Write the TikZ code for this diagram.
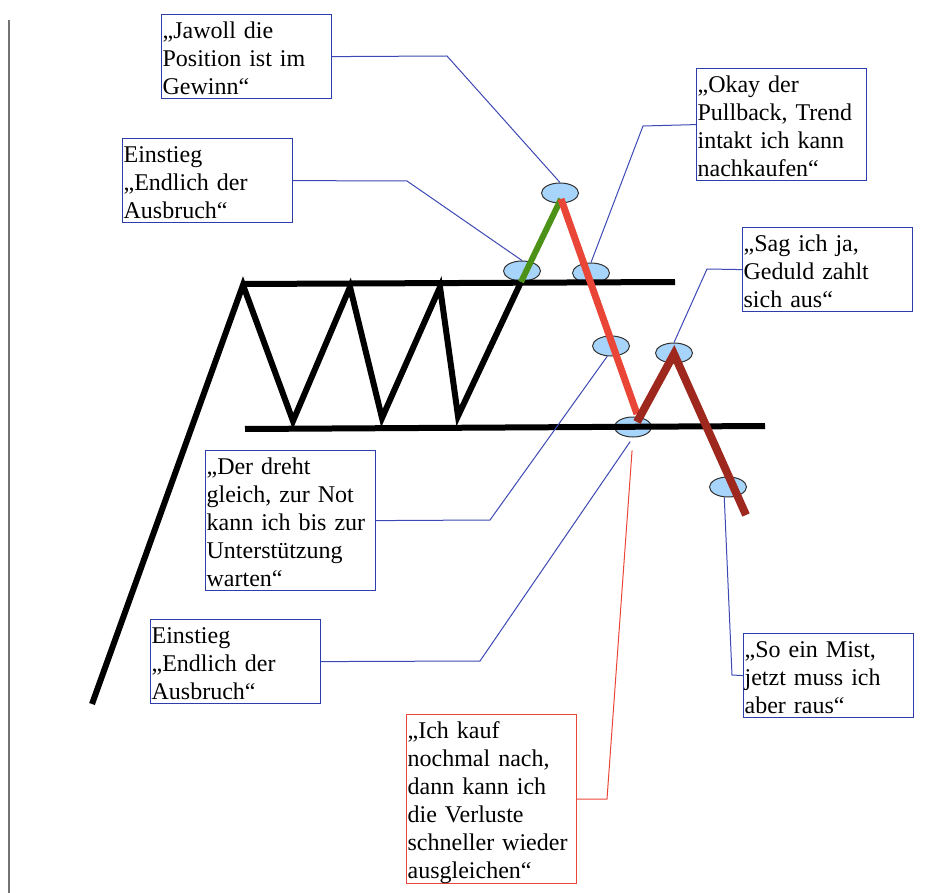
\documentclass[tikz,border=0pt]{standalone}
\usepackage{fontspec}
\setmainfont{Liberation Serif}
\usepackage{xcolor}
\usepackage{tikz}
\usetikzlibrary{shapes.geometric}
\usetikzlibrary{calc}

\definecolor{rahmenblau}{RGB}{45,62,172}
\definecolor{linienblau}{RGB}{60,72,180}
\definecolor{hellblau}{RGB}{166,212,250}
\definecolor{kursrot}{RGB}{234,70,56}
\definecolor{dunkelrot}{RGB}{158,40,30}
\definecolor{kursgruen}{RGB}{76,146,22}

\tikzset{
  spruch/.style={draw=rahmenblau, line width=1.2pt, rectangle, anchor=north west,
    inner xsep=1pt, inner ysep=0pt, text width=168pt, align=left,
    font=\fontsize{24}{28}\selectfont,
    execute at begin node=\rule{0pt}{24pt},
    execute at end node=\rule[-4pt]{0pt}{4pt}},
  punkt/.style={ellipse, draw=black!80, line width=1pt, fill=hellblau,
    minimum width=37pt, minimum height=20pt, inner sep=0pt},
  linie/.style={draw=linienblau, line width=1pt},
  kurs/.style={line width=6pt}
}

\begin{document}
\begin{tikzpicture}[x=1pt,y=-1pt]
\useasboundingbox (0,0) rectangle (929,893);
\draw[black!55, line width=1.5pt] (9,20) -- (9,893);

\coordinate (A) at (92,704);
\coordinate (B) at (243,285);
\coordinate (C) at (293,421);
\coordinate (D) at (350,287);
\coordinate (E) at (382,418);
\coordinate (F) at (440,287);
\coordinate (G) at (458,416);
\coordinate (H) at (521,282);
%\coordinate (HZ) at (521,279);
\coordinate (P) at (561,199);
\coordinate (Q) at (637,414);
\coordinate (R) at (637,422);
\coordinate (T) at (674,354);
\coordinate (U) at (746,515);

% Punkte
\node[punkt] (ausbruch) at (522,271) {};
\node[punkt] (retest) at (591,273) {};
\node[punkt] (fall) at (611,346) {};
\node[punkt] (unterst) at (633,427) {};

% Widerstand und Unterstuetzung
\draw[kurs] (243,284) -- (675,282);
\draw[kurs] (245,429) -- (765,426);
\draw[kurs] (A)--(B)--(C)--(D)--(E)--(F)--(G)--(H);

\node[punkt] (hoch) at (560,193) {};
\node[punkt] (erholung) at (674,353) {};
\node[punkt] (raus) at (728,487) {};

\draw[kurs, kursgruen] (H)--(P);
\draw[kurs, kursrot, line width=7pt] (P)--(Q);
\draw[kurs, dunkelrot, line width=8pt] (R)--(T)--(U);

% Sprechblasen
\node[spruch] (gewinn) at (161,14) {„Jawoll die\\Position ist im\\Gewinn“};
\node[spruch] (einstieg) at (122,138) {Einstieg\\„Endlich der\\Ausbruch“};
\node[spruch] (pullback) at (696,68) {„Okay der\\Pullback, Trend\\intakt ich kann\\nachkaufen“};
\node[spruch] (geduld) at (742,227) {„Sag ich ja,\\Geduld zahlt\\sich aus“};
\node[spruch] (dreht) at (205,450) {„Der dreht\\gleich, zur Not\\kann ich bis zur\\Unterstützung\\warten“};
\node[spruch] (einstiegb) at (150,619) {Einstieg\\„Endlich der\\Ausbruch“};
\node[spruch, draw=kursrot] (nachkauf) at (406,714) {„Ich kauf\\nochmal nach,\\dann kann ich\\die Verluste\\schneller wieder\\ausgleichen“};
\node[spruch] (mist) at (743,633) {„So ein Mist,\\jetzt muss ich\\aber raus“};

% Knicke
\coordinate (kA) at (447,56);
\coordinate (kB) at (407,181);
\coordinate (kC) at (643,126);
\coordinate (kD) at (707,269);
\coordinate (kE) at (490,520);
\coordinate (kF) at (480,661);
\coordinate (kG) at (607,799);
\coordinate (kH) at (732,675);

\draw[linie] (gewinn.east) -- (kA) -- (hoch.north);
\draw[linie] (einstieg.east) -- (kB) -- (ausbruch.north);
\draw[linie] (pullback.west) -- (kC) -- (retest.north);
\draw[linie] (geduld.west) -- (kD) -- (erholung.north);
\draw[linie] (dreht.east) -- (kE) -- (fall.250);
\draw[linie, shorten >=5pt] (einstiegb.east) -- (kF) -- (unterst.south);
\draw[linie, draw=kursrot, shorten >=13pt] (nachkauf.east) -- (kG) -- (unterst.south);
\draw[linie] (mist.west) -- (kH) -- (raus.250);

\end{tikzpicture}
\end{document}
